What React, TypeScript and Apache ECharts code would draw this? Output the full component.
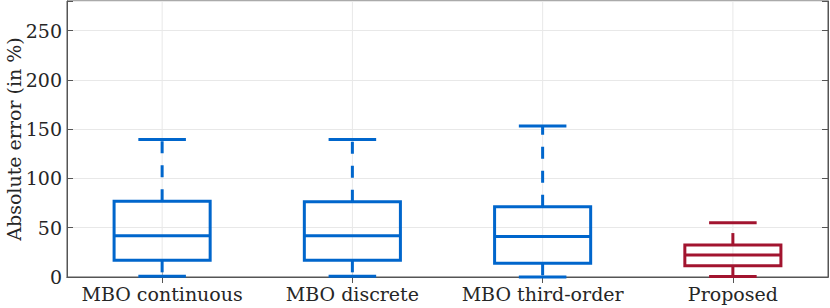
import React, { useEffect, useRef } from "react";
import * as echarts from "echarts";

const categories = ["MBO continuous", "MBO discrete", "MBO third-order", "Proposed"];
// [min, Q1, median, Q3, max]
const boxMin = [0.8, 0.8, 0, 0.5];
const boxQ1 = [16.9, 16.9, 13.9, 11.4];
const boxMedian = [41.8, 41.8, 41.2, 22.3];
const boxQ3 = [76.9, 76.4, 71.2, 32.4];
const boxMax = [139.4, 139.4, 153.2, 55];
const boxColors = ["#0066CC", "#0066CC", "#0066CC", "#A2142F"];
const yTicks = [0, 50, 100, 150, 200, 250];

const FONT = "DejaVu Serif";

export default function App() {
  const ref = useRef<HTMLDivElement>(null);
  useEffect(() => {
    if (!ref.current) return;
    document.body.style.margin = "0";
    const chart = echarts.init(ref.current, null, { renderer: "svg" });
    const data = categories.map((_, i) => [i, boxMin[i], boxQ1[i], boxMedian[i], boxQ3[i], boxMax[i]]);
    const option: any = {
      animation: false,
      backgroundColor: "#ffffff",
      grid: {
        left: 67,
        right: 2,
        top: 1,
        bottom: 31,
        containLabel: false,
        outerBoundsMode: "none",
        show: true,
        borderColor: "#555555",
        borderWidth: 1,
        backgroundColor: "transparent",
      },
      xAxis: [
        {
          type: "category",
          data: categories,
          boundaryGap: true,
          axisLine: { show: true, lineStyle: { color: "#555555", width: 1 } },
          axisTick: { show: true, inside: true, alignWithLabel: true, length: 6, lineStyle: { color: "#555555" } },
          axisLabel: { color: "#262626", fontFamily: FONT, fontSize: 19, margin: 7, interval: 0 },
          splitLine: { show: false },
        },
        {
          type: "category",
          data: categories,
          position: "top",
          boundaryGap: true,
          axisLine: { show: true, lineStyle: { color: "#555555", width: 1 } },
          axisTick: { show: true, inside: true, alignWithLabel: true, length: 6, lineStyle: { color: "#555555" } },
          axisLabel: { show: false },
          splitLine: { show: false },
        },
      ],
      yAxis: [
        {
          type: "value",
          min: 0,
          max: 280,
          interval: 50,
          name: "Absolute error (in %)",
          nameLocation: "middle",
          nameRotate: 90,
          nameGap: 44,
          nameMoveOverlap: false,
          nameTextStyle: { color: "#262626", fontFamily: FONT, fontSize: 19 },
          axisLine: { show: true, lineStyle: { color: "#555555", width: 1 } },
          axisTick: { show: true, inside: true, length: 6, lineStyle: { color: "#555555" } },
          axisLabel: {
            color: "#262626",
            fontFamily: FONT,
            fontSize: 19,
            margin: 5,
            formatter: (v: number) => (yTicks.includes(v) ? String(v) : ""),
          },
          splitLine: { show: true, lineStyle: { color: "#e8e8e8", width: 1 } },
        },
        {
          type: "value",
          min: 0,
          max: 280,
          interval: 50,
          position: "right",
          axisLine: { show: true, lineStyle: { color: "#555555", width: 1 } },
          axisTick: { show: true, inside: true, length: 6, lineStyle: { color: "#555555" } },
          axisLabel: { show: false },
          splitLine: { show: false },
        },
      ],
      series: [
        {
          type: "custom",
          xAxisIndex: 0,
          yAxisIndex: 0,
          data: data,
          renderItem: (params: any, api: any) => {
            const idx = api.value(0);
            const vMin = api.value(1);
            const vQ1 = api.value(2);
            const vMed = api.value(3);
            const vQ3 = api.value(4);
            const vMax = api.value(5);
            const bandW = api.size([1, 0])[0];
            const pMin = api.coord([idx, vMin]);
            const pQ1 = api.coord([idx, vQ1]);
            const pMed = api.coord([idx, vMed]);
            const pQ3 = api.coord([idx, vQ3]);
            const pMax = api.coord([idx, vMax]);
            const top = api.coord([idx, 280])[1];
            const bottom = api.coord([idx, 0])[1];
            const cx = pMed[0];
            const boxW = bandW * 0.505;
            const capW = bandW * 0.25;
            const color = boxColors[params.dataIndex];
            const lw = 3;
            return {
              type: "group",
              children: [
                {
                  type: "line",
                  shape: { x1: cx, y1: top, x2: cx, y2: bottom },
                  style: { stroke: "#e8e8e8", lineWidth: 1 },
                  z2: 0,
                },
                {
                  type: "line",
                  shape: { x1: cx, y1: pQ3[1], x2: cx, y2: pMax[1] },
                  style: { stroke: color, lineWidth: lw, lineDash: [12, 12] },
                  z2: 1,
                },
                {
                  type: "line",
                  shape: { x1: cx, y1: pQ1[1], x2: cx, y2: pMin[1] },
                  style: { stroke: color, lineWidth: lw, lineDash: [12, 12] },
                  z2: 1,
                },
                {
                  type: "line",
                  shape: { x1: cx - capW / 2, y1: pMax[1], x2: cx + capW / 2, y2: pMax[1] },
                  style: { stroke: color, lineWidth: lw },
                  z2: 1,
                },
                {
                  type: "line",
                  shape: { x1: cx - capW / 2, y1: pMin[1], x2: cx + capW / 2, y2: pMin[1] },
                  style: { stroke: color, lineWidth: lw },
                  z2: 1,
                },
                {
                  type: "rect",
                  shape: { x: cx - boxW / 2, y: pQ3[1], width: boxW, height: pQ1[1] - pQ3[1] },
                  style: { stroke: color, lineWidth: lw, fill: "none" },
                  z2: 2,
                },
                {
                  type: "line",
                  shape: { x1: cx - boxW / 2, y1: pMed[1], x2: cx + boxW / 2, y2: pMed[1] },
                  style: { stroke: color, lineWidth: lw },
                  z2: 2,
                },
              ],
            };
          },
        },
      ],
    };
    chart.setOption(option);
    return () => chart.dispose();
  }, []);
  return <div ref={ref} style={{ width: 830, height: 308 }} />;
}
